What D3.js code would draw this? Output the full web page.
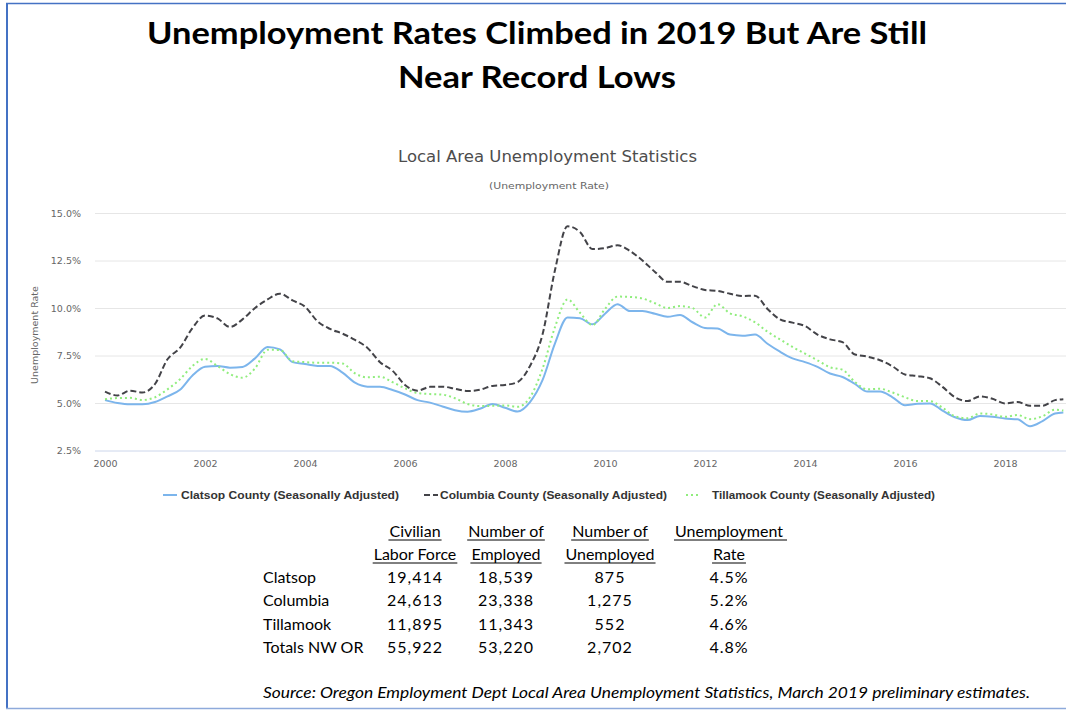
<!DOCTYPE html>
<html><head><meta charset="utf-8">
<script src="https://cdn.jsdelivr.net/npm/d3@7"></script>
<style>body{margin:0;background:#fff}svg{display:block}</style>
</head><body><svg id="c" width="1066" height="711"></svg>
<script>
// ---- data (quarterly readings, %) ----
const dates = [
"2000-01","2000-04","2000-07","2000-10","2001-01","2001-04","2001-07","2001-10",
"2002-01","2002-04","2002-07","2002-10","2003-01","2003-04","2003-07","2003-10",
"2004-01","2004-04","2004-07","2004-10","2005-01","2005-04","2005-07","2005-10",
"2006-01","2006-04","2006-07","2006-10","2007-01","2007-04","2007-07","2007-10",
"2008-01","2008-04","2008-07","2008-10","2009-01","2009-04","2009-07","2009-10",
"2010-01","2010-04","2010-07","2010-10","2011-01","2011-04","2011-07","2011-10",
"2012-01","2012-04","2012-07","2012-10","2013-01","2013-04","2013-07","2013-10",
"2014-01","2014-04","2014-07","2014-10","2015-01","2015-04","2015-07","2015-10",
"2016-01","2016-04","2016-07","2016-10","2017-01","2017-04","2017-07","2017-10",
"2018-01","2018-04","2018-07","2018-10","2019-01","2019-03"];
const clatsop = [
5.15,5.0,4.93,4.93,5.05,5.35,5.7,6.45,
6.91,6.95,6.86,6.9,7.35,7.95,7.82,7.15,
7.05,6.95,6.95,6.6,6.07,5.86,5.85,5.68,
5.45,5.15,5.02,4.82,4.62,4.54,4.7,4.95,
4.75,4.55,5.05,6.2,8.14,9.5,9.46,9.14,
9.7,10.2,9.84,9.84,9.7,9.54,9.63,9.25,
8.95,8.92,8.6,8.54,8.6,8.12,7.7,7.35,
7.15,6.9,6.55,6.37,6.0,5.6,5.6,5.3,
4.88,4.96,4.98,4.6,4.25,4.1,4.32,4.28,
4.18,4.14,3.78,4.05,4.45,4.5];
const columbia = [
5.6,5.4,5.65,5.55,6.0,7.3,7.9,8.95,
9.6,9.45,9.0,9.4,10.0,10.45,10.75,10.4,
10.07,9.3,8.9,8.65,8.32,7.9,7.15,6.7,
5.95,5.65,5.85,5.86,5.75,5.63,5.7,5.9,
5.95,6.1,6.95,8.6,12.0,14.3,14.0,13.1,
13.15,13.3,13.0,12.5,11.9,11.38,11.38,11.15,
10.95,10.9,10.75,10.63,10.65,9.95,9.4,9.23,
9.05,8.6,8.35,8.2,7.55,7.44,7.25,6.93,
6.5,6.42,6.3,5.85,5.3,5.1,5.35,5.22,
4.98,5.05,4.85,4.85,5.15,5.2];
const tillamook = [
5.2,5.26,5.27,5.16,5.3,5.72,6.25,6.95,
7.32,6.95,6.52,6.33,6.82,7.8,7.79,7.2,
7.15,7.12,7.12,7.08,6.56,6.35,6.38,6.1,
5.77,5.52,5.47,5.44,5.25,4.95,4.84,4.85,
4.87,4.8,5.3,6.8,9.0,10.45,9.75,9.1,
9.95,10.6,10.58,10.5,10.25,10.0,10.1,10.0,
9.5,10.2,9.72,9.56,9.25,8.75,8.35,7.95,
7.6,7.25,6.88,6.75,6.1,5.72,5.75,5.55,
5.3,5.1,5.1,4.75,4.3,4.2,4.45,4.4,
4.27,4.37,4.15,4.3,4.65,4.6];
const seriesNames = ["Clatsop County (Seasonally Adjusted)","Columbia County (Seasonally Adjusted)","Tillamook County (Seasonally Adjusted)"];
const yTicks = [2.5,5,7.5,10,12.5,15];
const xTicks = [2000,2002,2004,2006,2008,2010,2012,2014,2016,2018];

const tableHead1 = ["Civilian","Number of","Number of","Unemployment"];
const tableHead2 = ["Labor Force","Employed","Unemployed","Rate"];
const tableAreas = ["Clatsop","Columbia","Tillamook","Totals NW OR"];
const laborForce = ["19,414","24,613","11,895","55,922"];
const employed = ["18,539","23,338","11,343","53,220"];
const unemployed = ["875","1,275","552","2,702"];
const rate = ["4.5%","5.2%","4.6%","4.8%"];

// ---- drawing ----
const svg = d3.select("#c");
const chartFont = "'DejaVu Sans', Verdana, sans-serif";
const docFont = "Lato, 'Open Sans', sans-serif";

// frame
svg.append("line").attr("x1",7).attr("x2",7).attr("y1",3).attr("y2",708).attr("stroke","#4472c4").attr("stroke-width",2);
svg.append("line").attr("x1",6).attr("x2",1066).attr("y1",3.5).attr("y2",3.5).attr("stroke","#4472c4").attr("stroke-width",1.5);
svg.append("line").attr("x1",6).attr("x2",1066).attr("y1",708.5).attr("y2",708.5).attr("stroke","#8eaadb").attr("stroke-width",1.5);

// title
const title = svg.append("g").attr("font-family",docFont).attr("font-weight","bold").attr("font-size",31).attr("fill","#000").attr("text-anchor","start");
title.append("text").attr("x",147).attr("y",44).attr("textLength",780).attr("lengthAdjust","spacingAndGlyphs").text("Unemployment Rates Climbed in 2019 But Are Still");
title.append("text").attr("x",398).attr("y",88).attr("textLength",278).attr("lengthAdjust","spacingAndGlyphs").text("Near Record Lows");

// chart titles
svg.append("text").attr("x",398).attr("y",162).attr("font-family",chartFont).attr("font-size",15).attr("fill","#4d4d4d")
  .attr("textLength",299).attr("lengthAdjust","spacingAndGlyphs").text("Local Area Unemployment Statistics");
svg.append("text").attr("x",489).attr("y",189).attr("font-family",chartFont).attr("font-size",9.5).attr("fill","#666")
  .attr("textLength",120).attr("lengthAdjust","spacingAndGlyphs").text("(Unemployment Rate)");

const x = d3.scaleLinear().domain([2000,2018]).range([105,1005]);
const y = d3.scaleLinear().domain([2.5,15]).range([450.5,213]);
const plotLeft = 95, plotRight = 1066;

// y axis + grid
const gy = svg.append("g").attr("transform",`translate(${plotLeft},0)`)
  .call(d3.axisLeft(y).tickValues(yTicks).tickSize(-(plotRight-plotLeft)).tickPadding(14).tickFormat(d=>d3.format(".1f")(d)+"%"));
gy.select(".domain").remove();
gy.selectAll(".tick line").attr("stroke",d=>d===2.5?"#ccd6eb":"#e6e6e6");
gy.selectAll(".tick text").attr("font-family",chartFont).attr("font-size",9.5).attr("fill","#666");

svg.append("text").attr("transform","translate(38,335) rotate(-90)").attr("text-anchor","middle")
  .attr("font-family",chartFont).attr("font-size",9.5).attr("fill","#666").text("Unemployment Rate");

// x axis
const gx = svg.append("g").attr("transform",`translate(0,${y(2.5)})`)
  .call(d3.axisBottom(x).tickValues(xTicks).tickSize(0).tickPadding(10).tickFormat(d3.format("d")));
gx.select(".domain").remove();
gx.selectAll(".tick text").attr("font-family",chartFont).attr("font-size",9.5).attr("fill","#666");

// lines
const toYear = s => { const [a,b] = s.split("-").map(Number); return a + (b-1)/12; };
const line = d3.line().x((d,i)=>x(toYear(dates[i]))).y(d=>y(d)).curve(d3.curveMonotoneX);
const styles = [
  {data:clatsop, color:"#7cb5ec", dash:null},
  {data:columbia, color:"#434348", dash:"6,3"},
  {data:tillamook, color:"#90ed7d", dash:"2,3"}
];
[styles[0],styles[2],styles[1]].forEach(s=>{
  svg.append("path").datum(s.data).attr("d",line).attr("fill","none").attr("stroke",s.color)
    .attr("stroke-width",2).attr("stroke-dasharray",s.dash).attr("stroke-linejoin","round");
});

// legend
const legendPos = [{sx:163,tx:181,tw:218},{sx:424,tx:440,tw:227},{sx:686,tx:712,tw:223}];
styles.forEach((s,i)=>{
  const p = legendPos[i];
  svg.append("line").attr("x1",p.sx).attr("x2",p.sx+14).attr("y1",495).attr("y2",495)
    .attr("stroke",s.color).attr("stroke-width",2).attr("stroke-dasharray",s.dash);
  svg.append("text").attr("x",p.tx).attr("y",499).attr("font-family","'Liberation Sans', Arial, sans-serif")
    .attr("font-weight","bold").attr("font-size",10.5).attr("fill","#333")
    .attr("textLength",p.tw).attr("lengthAdjust","spacingAndGlyphs").text(seriesNames[i]);
});

// table
const colX = [415,506,610,729];
const tg = svg.append("g").attr("font-family",docFont).attr("font-size",16).attr("fill","#000");
function headerCell(txt, cx, by, ulExtra){
  const t = tg.append("text").attr("x",cx).attr("y",by).attr("text-anchor","middle").text(txt);
  const w = t.node().getComputedTextLength();
  tg.append("line").attr("x1",cx-w/2-1).attr("x2",cx+w/2+1+(ulExtra||0)).attr("y1",by+3).attr("y2",by+3)
    .attr("stroke","#000").attr("stroke-width",1);
}
tableHead1.forEach((h,i)=>headerCell(h,colX[i],537, i===3?3:0));
tableHead2.forEach((h,i)=>headerCell(h,colX[i],560));
const cols = [laborForce,employed,unemployed,rate];
tableAreas.forEach((a,r)=>{
  const by = 583 + r*23.3;
  tg.append("text").attr("x",263).attr("y",by).text(a);
  cols.forEach((c,j)=>tg.append("text").attr("x",colX[j]).attr("y",by).attr("text-anchor","middle")
    .attr("letter-spacing",1).text(c[r]));
});

// source
svg.append("text").attr("x",263).attr("y",698).attr("font-family",docFont).attr("font-style","italic")
  .attr("font-size",14.5).attr("fill","#000").attr("textLength",767).attr("lengthAdjust","spacingAndGlyphs")
  .text("Source: Oregon Employment Dept Local Area Unemployment Statistics, March 2019 preliminary estimates.");
</script></body></html>
